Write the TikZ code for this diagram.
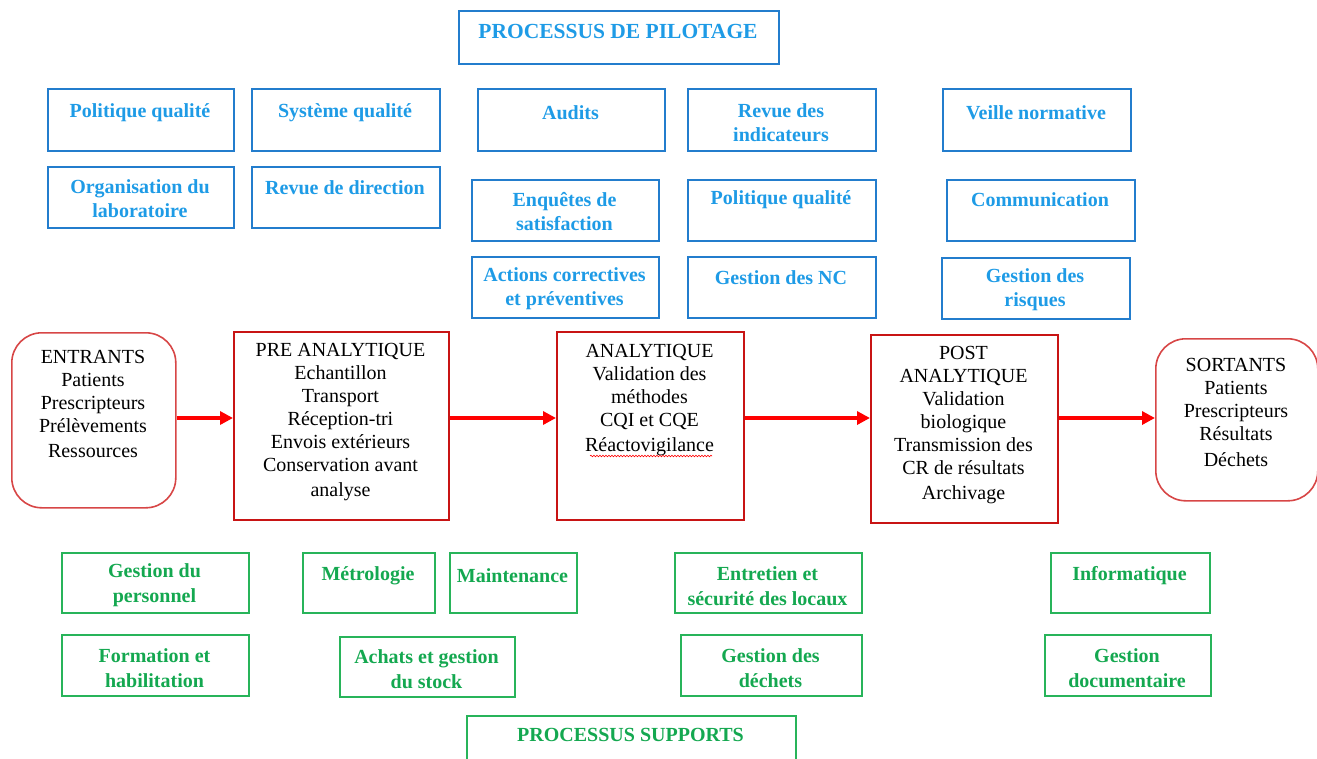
\documentclass[tikz,border=0pt]{standalone}
\usepackage{fontspec}
\setmainfont{Liberation Serif}
\usetikzlibrary{arrows.meta,decorations.pathmorphing}
\definecolor{bluetxt}{RGB}{30,155,230}
\definecolor{blueline}{RGB}{35,125,205}
\definecolor{greentxt}{RGB}{20,168,80}
\definecolor{greenline}{RGB}{40,180,90}
\definecolor{redline}{RGB}{200,20,20}
\definecolor{roundline}{RGB}{215,70,70}
\definecolor{arrowred}{RGB}{255,0,0}
\tikzset{
  bluebox/.style={draw=blueline, line width=1.6pt, inner sep=0pt},
  greenbox/.style={draw=greenline, line width=1.6pt, inner sep=0pt},
  redbox/.style={draw=redline, line width=1.6pt, inner sep=0pt},
  roundbox/.style={draw=roundline, line width=1.6pt, inner sep=0pt, rounded corners=30pt},
  bluetext/.style={text=bluetxt, font=\fontsize{20}{24}\selectfont\bfseries, align=center, inner sep=0pt, yshift=-2pt},
  titletext/.style={bluetext, font=\fontsize{21.5}{24}\selectfont\bfseries},
  greentext/.style={text=greentxt, font=\fontsize{20}{25}\selectfont\bfseries, align=center, inner sep=0pt, yshift=-2pt},
  blacktext/.style={text=black, font=\fontsize{20}{23}\selectfont, align=center, inner sep=0pt, yshift=-2pt},
  flow/.style={draw=arrowred, line width=3.5pt, -{Triangle[length=13pt,width=13pt]}},
}
% style, name, x1, y1, x2, y2, text style, text centre y, text
\newcommand{\pbox}[9]{%
  \node[#1, minimum width={#5-#3}, minimum height={#6-#4}, anchor=north west] (#2) at (#3,-#4) {};
  \node[#7] (#2-t) at ({(#3+#5)/2},-#8) {#9};
}
\begin{document}
\begin{tikzpicture}[x=1pt,y=1pt]
\useasboundingbox (0,0) rectangle (1317,-758);
% pilotage
\pbox{bluebox}{pilot}{458}{10}{778}{63}{titletext}{29}{PROCESSUS DE PILOTAGE}
\pbox{bluebox}{polq}{47}{88}{233}{150}{bluetext}{111}{Politique qualité}
\pbox{bluebox}{sysq}{251}{88}{439}{150}{bluetext}{111}{Système qualité}
\pbox{bluebox}{audit}{477}{88}{664}{150}{bluetext}{111}{Audits}
\pbox{bluebox}{revind}{687}{88}{875}{150}{bluetext}{121}{Revue des\\indicateurs}
\pbox{bluebox}{veille}{942}{88}{1130}{150}{bluetext}{111}{Veille normative}
\pbox{bluebox}{orga}{47}{166}{233}{227}{bluetext}{197}{Organisation du\\laboratoire}
\pbox{bluebox}{revdir}{251}{166}{439}{227}{bluetext}{186}{Revue de direction}
\pbox{bluebox}{enq}{471}{179}{658}{240}{bluetext}{210}{Enquêtes de\\satisfaction}
\pbox{bluebox}{polq2}{687}{179}{875}{240}{bluetext}{198}{Politique qualité}
\pbox{bluebox}{comm}{946}{179}{1134}{240}{bluetext}{198}{Communication}
\pbox{bluebox}{acp}{471}{256}{658}{317}{bluetext}{287}{Actions correctives\\et préventives}
\pbox{bluebox}{gnc}{687}{256}{875}{317}{bluetext}{276}{Gestion des NC}
\pbox{bluebox}{risq}{941}{257}{1129}{318}{bluetext}{288}{Gestion des\\risques}
% main flow
\pbox{roundbox}{ent}{11}{332}{175}{507}{blacktext}{402}{ENTRANTS\\Patients\\Prescripteurs\\Prélèvements\\[2pt]Ressources}
\pbox{redbox}{pre}{233}{331}{448}{519}{blacktext}{420}{PRE ANALYTIQUE\\Echantillon\\Transport\\Réception-tri\\Envois extérieurs\\Conservation avant\\[2pt]analyse}
\pbox{redbox}{ana}{556}{331}{743}{519}{blacktext}{398}{ANALYTIQUE\\Validation des\\méthodes\\CQI et CQE\\[2pt]Réactovigilance}
\pbox{redbox}{post}{870}{334}{1057}{522}{blacktext}{423}{POST\\ANALYTIQUE\\Validation\\biologique\\Transmission des\\CR de résultats\\[2pt]Archivage}
\pbox{roundbox}{sort}{1155}{338}{1317}{500}{blacktext}{410}{SORTANTS\\Patients\\Prescripteurs\\Résultats\\[3pt]Déchets}
\draw[red, line width=0.6pt, decorate, decoration={snake, amplitude=0.8pt, segment length=3pt}] (590,-456) -- (712,-456);
\coordinate (flowy) at (0,-418);
\draw[flow] (ent.east |- flowy) -- (pre.west |- flowy);
\draw[flow] (pre.east |- flowy) -- (ana.west |- flowy);
\draw[flow] (ana.east |- flowy) -- (post.west |- flowy);
\draw[flow] (post.east |- flowy) -- (sort.west |- flowy);
% supports
\pbox{greenbox}{pers}{61}{552}{248}{612}{greentext}{583}{Gestion du\\personnel}
\pbox{greenbox}{metro}{302}{552}{434}{612}{greentext}{574}{Métrologie}
\pbox{greenbox}{maint}{449}{552}{576}{612}{greentext}{574}{Maintenance}
\pbox{greenbox}{entr}{674}{552}{861}{612}{greentext}{584}{Entretien et\\sécurité des locaux}
\pbox{greenbox}{info}{1050}{552}{1209}{612}{greentext}{574}{Informatique}
\pbox{greenbox}{form}{61}{634}{248}{695}{greentext}{666}{Formation et\\habilitation}
\pbox{greenbox}{achat}{339}{636}{514}{696}{greentext}{667}{Achats et gestion\\du stock}
\pbox{greenbox}{dech}{680}{634}{861}{695}{greentext}{666}{Gestion des\\déchets}
\pbox{greenbox}{doc}{1044}{634}{1210}{695}{greentext}{666}{Gestion\\documentaire}
\pbox{greenbox}{supp}{466}{715}{795}{775}{greentext}{733}{PROCESSUS SUPPORTS}
\end{tikzpicture}
\end{document}
